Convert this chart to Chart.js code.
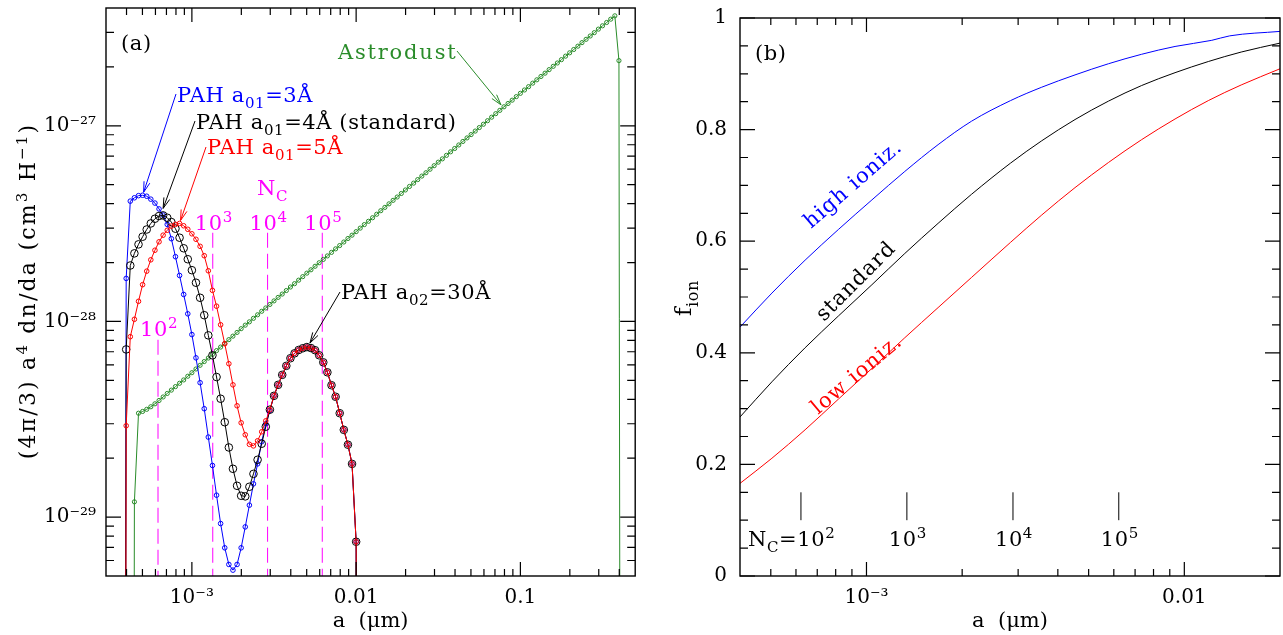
<!DOCTYPE html>
<html><head><meta charset="utf-8"><title>PAH size distributions and ionized fraction</title>
<script src="https://cdn.jsdelivr.net/npm/chart.js@4.4.1/dist/chart.umd.min.js"></script>
<style>
html,body{margin:0;padding:0;background:#fff;overflow:hidden}
#wrap{position:relative;width:1283px;height:635px;background:#fff}
canvas{position:absolute;top:0}
#left{left:0}
#right{left:640px}
</style></head><body>
<div id="wrap"><canvas id="left" width="640" height="635"></canvas><canvas id="right" width="643" height="635"></canvas></div>
<script>
// ---------------- DATA (panel a) ----------------
// grain radius a (micron), shared size grid
const sizeGrid = [
3.758e-4,
3.981e-4,4.217e-4,4.467e-4,4.732e-4,5.012e-4,5.309e-4,5.623e-4,5.957e-4,6.310e-4,6.683e-4,7.079e-4,7.499e-4,7.943e-4,8.414e-4,8.913e-4,9.441e-4,
1.000e-3,1.059e-3,1.122e-3,1.189e-3,1.259e-3,1.334e-3,1.413e-3,1.496e-3,1.585e-3,1.679e-3,1.778e-3,1.884e-3,1.995e-3,2.113e-3,2.239e-3,2.371e-3,2.512e-3,2.661e-3,2.818e-3,2.985e-3,3.162e-3,3.350e-3,3.548e-3,3.758e-3,3.981e-3,4.217e-3,4.467e-3,4.732e-3,5.012e-3,5.309e-3,5.623e-3,5.957e-3,6.310e-3,6.683e-3,7.079e-3,7.499e-3,7.943e-3,8.414e-3,8.913e-3,9.441e-3,
1.000e-2,1.059e-2,1.122e-2,1.189e-2,1.259e-2,1.334e-2,1.413e-2,1.496e-2,1.585e-2,1.679e-2,1.778e-2,1.884e-2,1.995e-2,2.113e-2,2.239e-2,2.371e-2,2.512e-2,2.661e-2,2.818e-2,2.985e-2,3.162e-2,3.350e-2,3.548e-2,3.758e-2,3.981e-2,4.217e-2,4.467e-2,4.732e-2,5.012e-2,5.309e-2,5.623e-2,5.957e-2,6.310e-2,6.683e-2,7.079e-2,7.499e-2,7.943e-2,8.414e-2,8.913e-2,9.441e-2,
1.000e-1,1.059e-1,1.122e-1,1.189e-1,1.259e-1,1.334e-1,1.413e-1,1.496e-1,1.585e-1,1.679e-1,1.778e-1,1.884e-1,1.995e-1,2.113e-1,2.239e-1,2.371e-1,2.512e-1,2.661e-1,2.818e-1,2.985e-1,3.162e-1,3.350e-1,3.548e-1,3.758e-1,3.981e-1,4.217e-1
];
// log10 of (4pi/3) a^4 dn/da  (cm^3 H^-1), one value per grid size
const pah3Log = [-40,
-27.780,-27.385,-27.368,-27.357,-27.355,-27.360,-27.375,-27.395,-27.425,-27.456,
-27.504,-27.577,-27.669,-27.765,-27.862,-27.961,-28.067,-28.186,-28.313,-28.446,
-28.591,-28.736,-28.888,-29.033,-29.157,-29.242,-29.271,-29.242,-29.157,-29.050,
-28.939,-28.830,-28.728,-28.615,-28.523,-28.455,
-28.380,-28.324,-28.273,-28.227,-28.188,-28.163,-28.146,-28.137,-28.131,-28.136,
-28.147,-28.173,-28.209,-28.260,-28.326,-28.385,-28.469,-28.554,-28.630,-28.728,-29.126,
-40];
const pah4Log = [-40,
-28.143,-27.714,-27.652,-27.606,-27.567,-27.530,-27.499,-27.475,-27.461,-27.458,
-27.470,-27.492,-27.526,-27.572,-27.626,-27.682,-27.738,-27.802,-27.879,-27.968,
-28.071,-28.173,-28.284,-28.395,-28.515,-28.644,-28.753,-28.840,-28.891,-28.894,
-28.845,-28.779,-28.707,-28.625,-28.538,-28.451,
-28.380,-28.324,-28.273,-28.227,-28.188,-28.163,-28.146,-28.137,-28.131,-28.136,
-28.147,-28.173,-28.209,-28.260,-28.326,-28.385,-28.469,-28.554,-28.630,-28.728,-29.126,
-40];
const pah5Log = [-40,
-28.533,-28.078,-27.989,-27.897,-27.812,-27.743,-27.685,-27.636,-27.593,-27.559,
-27.534,-27.513,-27.504,-27.499,-27.511,-27.529,-27.552,-27.580,-27.616,-27.664,
-27.741,-27.841,-27.922,-28.017,-28.114,-28.216,-28.324,-28.431,-28.518,-28.579,
-28.628,-28.636,-28.610,-28.564,-28.508,-28.451,
-28.380,-28.324,-28.273,-28.227,-28.188,-28.163,-28.146,-28.137,-28.131,-28.136,
-28.147,-28.173,-28.209,-28.260,-28.326,-28.385,-28.469,-28.554,-28.630,-28.728,-29.126,
-40];
const astrodustLog = [null,null,-40,
-28.922,-28.469,-28.460,-28.449,-28.436,-28.421,-28.404,-28.386,-28.368,-28.351,
-28.333,-28.316,-28.299,-28.280,-28.262,-28.243,-28.224,-28.205,-28.187,-28.168,
-28.149,-28.131,-28.112,-28.093,-28.075,-28.056,-28.037,-28.019,-28.002,-27.984,
-27.966,-27.948,-27.931,-27.913,-27.895,-27.877,-27.860,-27.842,-27.824,-27.807,
-27.789,-27.771,-27.753,-27.736,-27.718,-27.700,-27.683,-27.665,-27.647,-27.629,
-27.612,-27.594,-27.576,-27.559,-27.541,-27.523,-27.505,-27.488,-27.470,-27.452,
-27.434,-27.417,-27.399,-27.381,-27.364,-27.346,-27.328,-27.310,-27.293,-27.275,
-27.257,-27.240,-27.222,-27.204,-27.186,-27.169,-27.151,-27.133,-27.116,-27.098,
-27.080,-27.062,-27.045,-27.027,-27.009,-26.992,-26.974,-26.956,-26.938,-26.921,
-26.903,-26.886,-26.869,-26.851,-26.834,-26.817,-26.800,-26.782,-26.765,-26.748,
-26.731,-26.713,-26.696,-26.679,-26.662,-26.644,-26.627,-26.610,-26.593,-26.575,
-26.558,-26.541,-26.524,-26.506,-26.489,-26.472,-26.455,-26.438,-26.667,-40];
// carbon-number markers N_C = 10^2..10^5
const ncSizes = [6.22e-4, 1.34e-3, 2.89e-3, 6.22e-3];
const ncExponents = ['2','3','4','5'];
const ncLineTops = [8.06e-29, 2.84e-28, 2.84e-28, 2.84e-28];
// axis ticks panel a
const aXMajor = [1e-3, 1e-2, 1e-1];
const aXLabels = ['10\u207B\u00B3', '0.01', '0.1'];
const aXMinor = [4e-4,5e-4,6e-4,7e-4,8e-4,9e-4,2e-3,3e-3,4e-3,5e-3,6e-3,7e-3,8e-3,9e-3,2e-2,3e-2,4e-2,5e-2,6e-2,7e-2,8e-2,9e-2,2e-1,3e-1,4e-1];
const aYMajor = [1e-29, 1e-28, 1e-27];
const aYLabels = ['10\u207B\u00B2\u2079', '10\u207B\u00B2\u2078', '10\u207B\u00B2\u2077'];
const aYMinor = [6e-30,7e-30,8e-30,9e-30,2e-29,3e-29,4e-29,5e-29,6e-29,7e-29,8e-29,9e-29,2e-28,3e-28,4e-28,5e-28,6e-28,7e-28,8e-28,9e-28,2e-27,3e-27];

// ---------------- DATA (panel b) ----------------
const ionSizes = [4.0e-4,5.04e-4,6.41e-4,8.16e-4,1.04e-3,1.32e-3,1.68e-3,2.14e-3,2.84e-3,3.56e-3,4.53e-3,5.77e-3,7.34e-3,9.35e-3,1.19e-2,1.51e-2,2.0e-2];
const ionHighSizes = [4.0e-4,5.04e-4,6.41e-4,8.16e-4,1.04e-3,1.32e-3,1.68e-3,2.14e-3,2.84e-3,3.56e-3,4.53e-3,5.77e-3,7.34e-3,9.35e-3,1.22e-2,1.39e-2,2.0e-2];
const fionHigh = [0.446,0.507,0.566,0.621,0.674,0.725,0.773,0.815,0.852,0.876,0.898,0.918,0.935,0.949,0.960,0.968,0.976];
const fionStandard = [0.285,0.348,0.409,0.466,0.522,0.578,0.632,0.684,0.740,0.780,0.818,0.851,0.879,0.902,0.922,0.939,0.955];
const fionLow = [0.166,0.211,0.262,0.317,0.372,0.427,0.481,0.535,0.598,0.647,0.696,0.741,0.782,0.819,0.852,0.880,0.909];
const ncTickBottom = 0.10, ncTickTop = 0.15;
const bXMajor = [1e-3, 1e-2];
const bXLabels = ['10\u207B\u00B3', '0.01'];
const bXMinor = [5e-4,6e-4,7e-4,8e-4,9e-4,2e-3,3e-3,4e-3,5e-3,6e-3,7e-3,8e-3,9e-3];
const bYMajor = [0, 0.2, 0.4, 0.6, 0.8, 1];
const bYLabels = ['0', '0.2', '0.4', '0.6', '0.8', '1'];
const bYMinor = [0.05,0.1,0.15,0.25,0.3,0.35,0.45,0.5,0.55,0.65,0.7,0.75,0.85,0.9,0.95];

// ---------------- helpers ----------------
const F = '"DejaVu Serif", serif';
const BLUE = '#0000ff', RED = '#ff0000', BLACK = '#000000', GREEN = '#2a8c2a', MAG = '#ff00ff';
Chart.defaults.font.family = F;
Chart.defaults.color = '#000';

function logSeries(xs, logs, color, r) {
  return {
    data: xs.map((x, i) => ({x: x, y: logs[i] == null ? null : Math.pow(10, logs[i])})),
    borderColor: color, borderWidth: 1, pointRadius: r, pointBorderColor: color,
    pointBackgroundColor: 'rgba(0,0,0,0)', pointBorderWidth: 1, pointHoverRadius: r,
    tension: 0, fill: false, showLine: true, spanGaps: false
  };
}
function linSeries(xs, ys, color) {
  return {
    data: xs.map((x, i) => ({x: x, y: ys[i]})),
    borderColor: color, borderWidth: 1, pointRadius: 0, pointHoverRadius: 0,
    cubicInterpolationMode: 'monotone', fill: false, showLine: true
  };
}
function segment(x, y0, y1, color, dash) {
  return {data: [{x: x, y: y0}, {x: x, y: y1}], borderColor: color, borderWidth: 1,
    borderDash: dash || [], pointRadius: 0, pointHoverRadius: 0, fill: false, showLine: true};
}
function labelLookup(majors, labels, isLog) {
  return function (v) {
    for (let i = 0; i < majors.length; i++) {
      const d = isLog ? Math.abs(Math.log10(majors[i]) - Math.log10(v)) : Math.abs(majors[i] - v);
      if (d < 1e-6) return labels[i];
    }
    return '';
  };
}
// rich text: parts = [[text, mode]], mode 0 normal, 1 subscript, 2 superscript
function rich(ctx, x, y, parts, color, size, align, spacing) {
  ctx.save();
  ctx.fillStyle = color;
  ctx.textBaseline = 'alphabetic';
  ctx.textAlign = 'left';
  try { ctx.letterSpacing = (spacing == null ? 0.6 : spacing) + 'px'; } catch (e) {}
  const sz = parts.map(p => p[1] ? Math.round(size * 0.7) : size);
  const w = parts.map((p, i) => { ctx.font = sz[i] + 'px ' + F; return ctx.measureText(p[0]).width; });
  const total = w.reduce((a, b) => a + b, 0);
  let cx = align === 'center' ? x - total / 2 : x;
  parts.forEach((p, i) => {
    ctx.font = sz[i] + 'px ' + F;
    const dy = p[1] === 1 ? size * 0.3 : (p[1] === 2 ? -size * 0.38 : 0);
    ctx.fillText(p[0], cx, y + dy);
    cx += w[i];
  });
  ctx.restore();
}
function arrow(ctx, x0, y0, x1, y1, color) {
  ctx.save();
  ctx.strokeStyle = color; ctx.lineWidth = 1;
  const ang = Math.atan2(y1 - y0, x1 - x0), L = 11, h = 0.28;
  ctx.beginPath();
  ctx.moveTo(x0, y0); ctx.lineTo(x1, y1);
  ctx.moveTo(x1 - L * Math.cos(ang - h), y1 - L * Math.sin(ang - h));
  ctx.lineTo(x1, y1);
  ctx.lineTo(x1 - L * Math.cos(ang + h), y1 - L * Math.sin(ang + h));
  ctx.stroke();
  ctx.restore();
}
function framePlugin(xMaj, xMin, yMaj, yMin) {
  return {
    id: 'frameTicks',
    afterDatasetsDraw(chart) {
      const ctx = chart.ctx, a = chart.chartArea, xs = chart.scales.x, ys = chart.scales.y;
      ctx.save();
      ctx.strokeStyle = '#000'; ctx.lineWidth = 1.2;
      ctx.beginPath();
      const vt = (v, len) => { const p = xs.getPixelForValue(v);
        ctx.moveTo(p, a.bottom); ctx.lineTo(p, a.bottom - len);
        ctx.moveTo(p, a.top); ctx.lineTo(p, a.top + len); };
      const ht = (v, len) => { const p = ys.getPixelForValue(v);
        ctx.moveTo(a.left, p); ctx.lineTo(a.left + len, p);
        ctx.moveTo(a.right, p); ctx.lineTo(a.right - len, p); };
      xMaj.forEach(v => vt(v, 14)); xMin.forEach(v => vt(v, 7));
      yMaj.forEach(v => ht(v, 15)); yMin.forEach(v => ht(v, 8));
      ctx.stroke();
      ctx.lineWidth = 1.4;
      ctx.strokeRect(a.left, a.top, a.right - a.left, a.bottom - a.top);
      ctx.restore();
    }
  };
}
function fixSize(prop, val) {
  return s => { s[prop] = val; s.paddingTop = 0; s.paddingBottom = 0; s.paddingLeft = 0; s.paddingRight = 0; };
}
function axisCfg(type, min, max, majors, labels, isLog, fit, pad, title, titlePad) {
  return {
    type: type, min: min, max: max,
    grid: {display: false, drawTicks: false}, border: {display: false},
    afterBuildTicks: s => { s.ticks = majors.map(v => ({value: v})); },
    afterFit: fit,
    ticks: {autoSkip: false, maxRotation: 0, minRotation: 0, padding: pad, color: '#000',
      font: {family: F, size: 20}, callback: labelLookup(majors, labels, isLog)},
    title: title ? {display: true, text: title, color: '#000', font: {family: F, size: 21}, padding: titlePad} : {display: false}
  };
}

// ---------------- panel (a) ----------------
const pahGrid = sizeGrid.slice(0, pah3Log.length);
const leftDatasets = [
  logSeries(pahGrid, pah5Log, RED, 2.3),
  logSeries(pahGrid, pah4Log, BLACK, 3.8),
  logSeries(pahGrid, pah3Log, BLUE, 2.3),
  logSeries(sizeGrid, astrodustLog, GREEN, 2.1)
];
ncSizes.forEach((s, i) => leftDatasets.push(segment(s, ncLineTops[i], 5e-30, MAG, [15, 6])));

const leftNotes = {
  id: 'leftNotes',
  afterDatasetsDraw(chart) {
    const ctx = chart.ctx, xs = chart.scales.x, ys = chart.scales.y;
    const P = (ds, idx) => { const d = chart.data.datasets[ds].data[idx];
      return [xs.getPixelForValue(d.x), ys.getPixelForValue(d.y)]; };
    rich(ctx, 121, 50, [['(a)', 0]], BLACK, 21);
    rich(ctx, 177, 102, [['PAH a', 0], ['01', 1], ['=3\u00C5', 0]], BLUE, 21);
    rich(ctx, 196, 128.5, [['PAH a', 0], ['01', 1], ['=4\u00C5 (standard)', 0]], BLACK, 21);
    rich(ctx, 207, 154, [['PAH a', 0], ['01', 1], ['=5\u00C5', 0]], RED, 21);
    rich(ctx, 257, 195, [['N', 0], ['C', 1]], MAG, 21);
    rich(ctx, 338, 59, [['Astrodust', 0]], GREEN, 21, null, 1.8);
    rich(ctx, 341, 298.5, [['PAH a', 0], ['02', 1], ['=30\u00C5', 0]], BLACK, 21);
    ncSizes.forEach((s, i) => {
      const px = xs.getPixelForValue(s);
      rich(ctx, px + 1, i === 0 ? 336 : 230, [['10', 0], [ncExponents[i], 2]], MAG, 21, 'center');
    });
    let t = P(2, 5); arrow(ctx, 176, 94, t[0] + 1, t[1] - 3, BLUE);
    t = P(1, 10); arrow(ctx, 195, 121, t[0], t[1] - 7, BLACK);
    t = P(0, 14); arrow(ctx, 206, 147, t[0] + 1, t[1] - 3, RED);
    t = P(3, 93); arrow(ctx, 457, 51, t[0] - 3, t[1] - 2, GREEN);
    t = P(1, 46); arrow(ctx, 340, 292, t[0] - 1, t[1] - 5, BLACK);
    // y-axis title
    ctx.save(); ctx.translate(35, 291); ctx.rotate(-Math.PI / 2);
    rich(ctx, 0, 0, [['(4\u03C0/3) a', 0], ['4', 2], [' dn/da (cm', 0], ['3', 2], [' H', 0], ['\u22121', 2], [')', 0]], BLACK, 22, 'center', 2.2);
    ctx.restore();
  }
};

new Chart(document.getElementById('left'), {
  type: 'line',
  data: {datasets: leftDatasets},
  options: {
    responsive: false, animation: false, events: [],
    layout: {padding: {left: 0, right: 2, top: 8, bottom: 0}},
    plugins: {legend: {display: false}, tooltip: {enabled: false}},
    elements: {point: {pointStyle: 'circle'}},
    scales: {
      x: axisCfg('logarithmic', 3e-4, 0.5, aXMajor, aXLabels, true, fixSize('height', 59), 10, 'a  (\u03BCm)', {top: 0, bottom: 1}),
      y: axisCfg('logarithmic', 5e-30, 4e-27, aYMajor, aYLabels, true, fixSize('width', 106), 10, null, null)
    }
  },
  plugins: [framePlugin(aXMajor, aXMinor, aYMajor, aYMinor), leftNotes]
});

// ---------------- panel (b) ----------------
const rightDatasets = [
  linSeries(ionSizes, fionLow, RED),
  linSeries(ionSizes, fionStandard, BLACK),
  linSeries(ionHighSizes, fionHigh, BLUE)
];
ncSizes.forEach(s => rightDatasets.push(segment(s, ncTickBottom, ncTickTop, BLACK)));

const rightNotes = {
  id: 'rightNotes',
  afterDatasetsDraw(chart) {
    const ctx = chart.ctx, xs = chart.scales.x;
    rich(ctx, 115, 60, [['(b)', 0]], BLACK, 21);
    const rot = (x, y, ang, parts, color) => { ctx.save(); ctx.translate(x, y); ctx.rotate(ang * Math.PI / 180);
      rich(ctx, 0, 0, parts, color, 21, null, 1); ctx.restore(); };
    rot(171, 229, -41, [['high ioniz.', 0]], BLUE);
    rot(184, 322, -45, [['standard', 0]], BLACK);
    rot(178, 415, -40, [['low ioniz.', 0]], RED);
    rich(ctx, 108, 546, [['N', 0], ['C', 1], ['=10', 0], [ncExponents[0], 2]], BLACK, 21);
    ncSizes.forEach((s, i) => { if (i > 0) rich(ctx, xs.getPixelForValue(s) + 1, 546, [['10', 0], [ncExponents[i], 2]], BLACK, 21, 'center'); });
    // y-axis title f_ion
    ctx.save(); ctx.translate(51, 316); ctx.rotate(-Math.PI / 2);
    rich(ctx, 0, 0, [['f', 0], ['ion', 1]], BLACK, 23);
    ctx.restore();
  }
};

new Chart(document.getElementById('right'), {
  type: 'line',
  data: {datasets: rightDatasets},
  options: {
    responsive: false, animation: false, events: [],
    layout: {padding: {left: 0, right: 3, top: 18, bottom: 0}},
    plugins: {legend: {display: false}, tooltip: {enabled: false}},
    scales: {
      x: axisCfg('logarithmic', 4e-4, 2e-2, bXMajor, bXLabels, true, fixSize('height', 59), 10, 'a  (\u03BCm)', {top: 0, bottom: 1}),
      y: axisCfg('linear', 0, 1, bYMajor, bYLabels, false, fixSize('width', 100), 13, null, null)
    }
  },
  plugins: [framePlugin(bXMajor, bXMinor, bYMajor, bYMinor), rightNotes]
});
</script></body></html>
